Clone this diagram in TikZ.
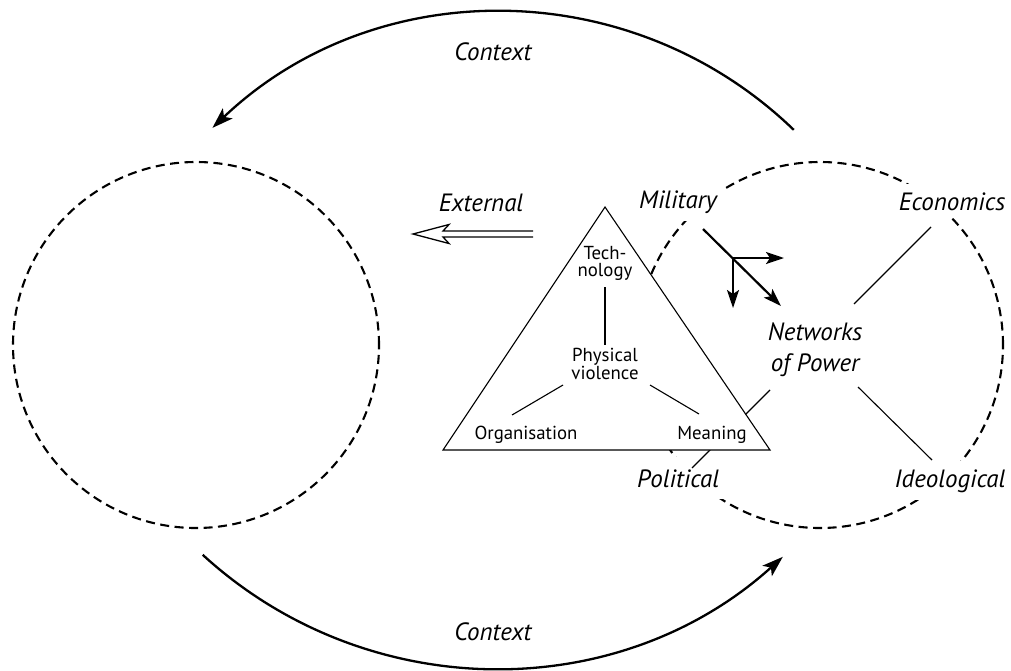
\documentclass[tikz,border=0pt]{standalone}
\usepackage{fontspec}
\setmainfont{PT Sans}
\usetikzlibrary{arrows.meta,calc}
\begin{document}
\begin{tikzpicture}[x=1pt,y=1pt,
  ital/.style={font=\fontsize{25}{31}\selectfont\itshape, inner sep=0pt},
  lab/.style={ital, fill=white, inner xsep=6pt, inner ysep=8pt},
  tri/.style={font=\fontsize{18.8}{17}\selectfont, inner sep=0pt, align=center},
  dashcirc/.style={dash pattern=on 9pt off 5.5pt, line width=2.1pt},
  thin/.style={line width=1.1pt},
  ctx/.style={line width=2.3pt, -{Stealth[length=21pt,width=14pt,inset=5pt]}},
  mil/.style={line width=2.2pt, -{Stealth[length=18pt,width=12pt,inset=4pt]}}
]
\useasboundingbox (0,0) rectangle (1011,-670);

% circles
\draw[dashcirc] (196,-345) circle[radius=183];
\draw[dashcirc] (820,-345) circle[radius=183];

% context arcs
\coordinate (ctxTopStart) at (793.8,-129.9);
\coordinate (ctxBotStart) at (202.7,-554.8);
\draw[ctx] (ctxTopStart) arc[start angle=46, end angle=133.6, radius=420];
\draw[ctx] (ctxBotStart) arc[start angle=227.5, end angle=312.1, radius=431];
\node[ital, anchor=base] (ctxTop) at (493,-60) {Context};
\node[ital, anchor=base] (ctxBot) at (493,-640) {Context};

% labels
\node[ital, anchor=base] (ext) at (481,-211) {External};
\node[ital, align=center] (net) at (815,-350) {Networks\\of Power};
\node[lab, anchor=base] (mil) at (678,-208) {Military};
\node[lab, anchor=base] (eco) at (952,-210) {Economics};
\node[lab, anchor=base, inner ysep=12pt] (pol) at (678,-487) {Political};
\node[lab, anchor=base] (ideo) at (950,-487) {Ideological};

% lines from networks
\draw[thin] ($(net.center)+(39,46)$) -- ($(eco.base)+(-21,-17)$);
\draw[thin] ($(net.center)+(43,-37)$) -- ($(ideo.base)+(-18,27)$);
\draw[thin] ($(net.center)+(-45,-40)$) -- ($(pol.base)+(14,19)$);

% triangle
\coordinate (triA) at (605,-207);
\coordinate (triB) at (443,-450);
\coordinate (triC) at (770,-450);
\filldraw[thin, fill=white] (triA) -- (triB) -- (triC) -- cycle;

\node[tri] (tech) at (605,-263) {Tech-\\nology};
\node[tri] (phys) at (605,-364) {Physical\\violence};
\node[tri, anchor=base] (org) at (526,-439) {Organisation};
\node[tri, anchor=base] (mean) at (712,-439) {Meaning};
\draw[thin] ($(tech.center)+(0,-24)$) -- ($(phys.center)+(0,19)$);
\draw[thin] ($(phys.center)+(-42,-21)$) -- ($(org.base)+(-14,24)$);
\draw[thin] ($(phys.center)+(45,-21)$) -- ($(mean.base)+(-13,25)$);

% external arrow
\coordinate (extTip) at (413,-234);
\draw[line width=1.3pt, line join=miter] (533,-231) -- (443,-231) -- (449,-224.5) -- (extTip) -- (449,-243.5) -- (443,-237) -- (533,-237);

% military arrows
\coordinate (br) at (733,-258);
\coordinate (brE) at (784,-258);
\coordinate (brS) at (733,-308);
\draw[mil] ($(mil.base)+(25,-21)$) -- ($(net.center)+(-34,44)$);
\draw[mil] (br) -- (brE);
\draw[mil] (br) -- (brS);
\end{tikzpicture}
\end{document}
